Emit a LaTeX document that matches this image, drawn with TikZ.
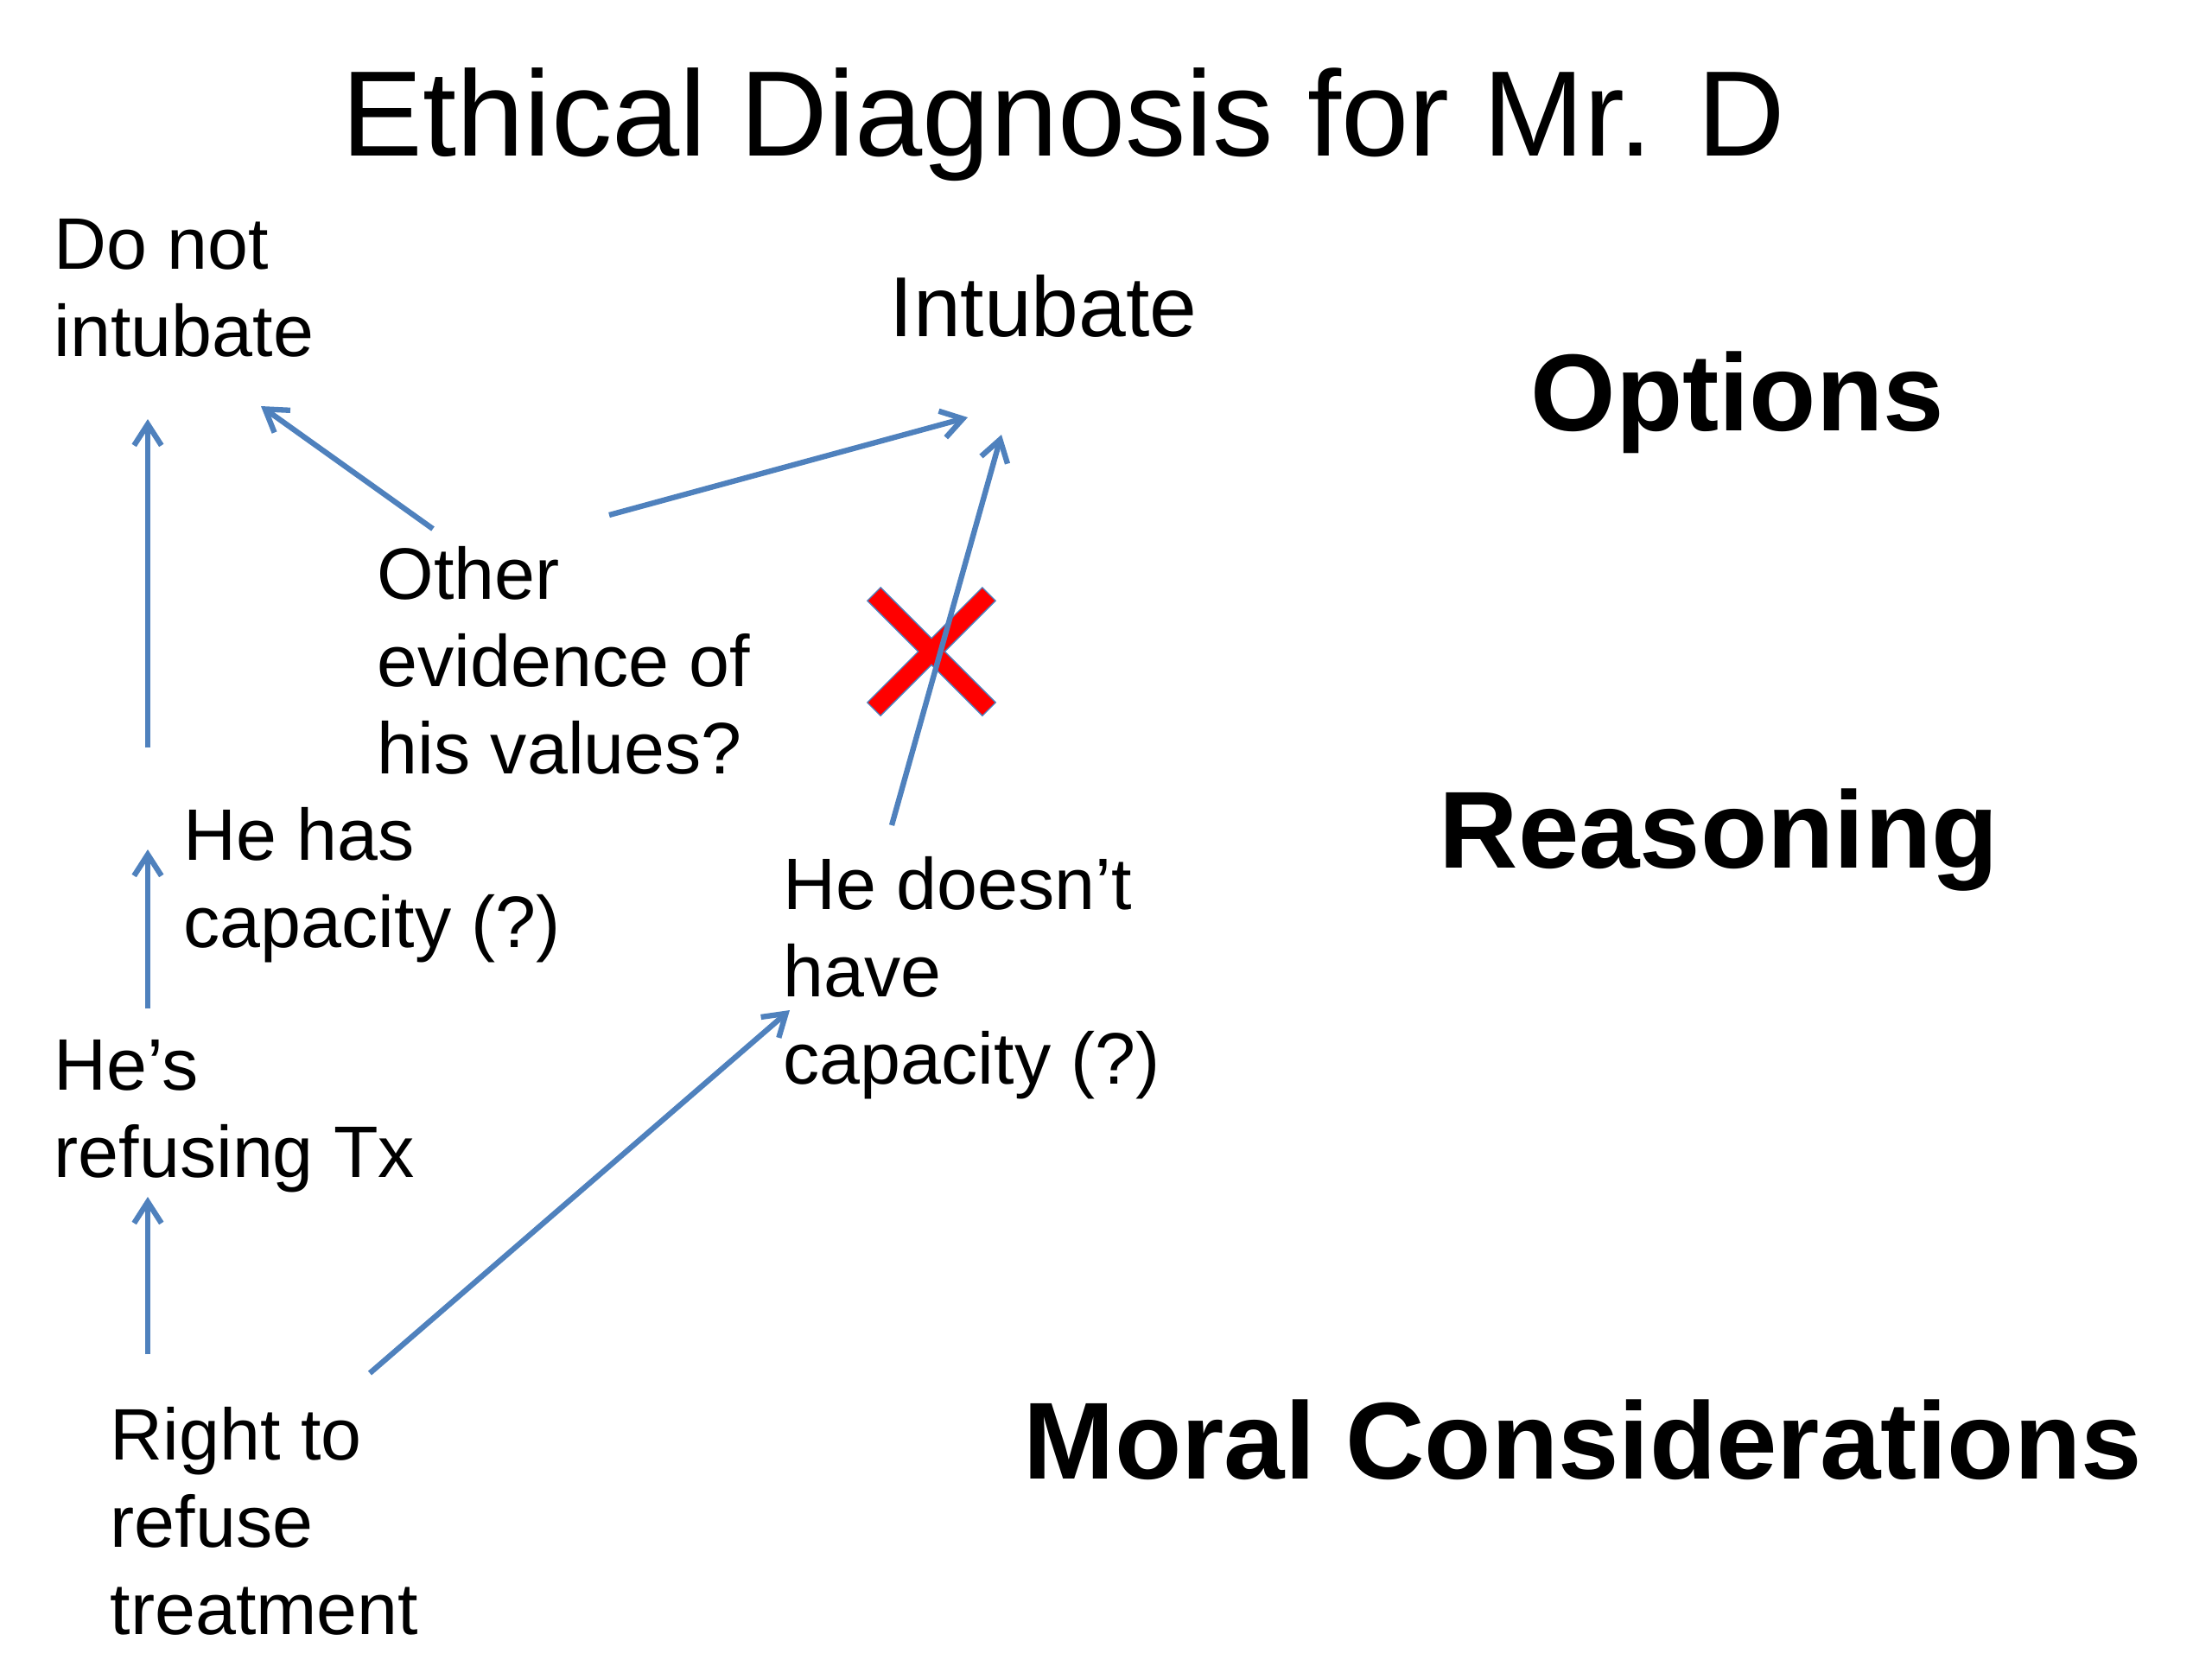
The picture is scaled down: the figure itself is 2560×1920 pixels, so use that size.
\documentclass[tikz,border=0pt]{standalone}
\usepackage{fontspec}
\setmainfont{Liberation Sans}
\usepackage{tikz}
\usetikzlibrary{arrows.meta, calc}
\tikzset{every node/.style={font=\fontsize{24}{28.6}\selectfont}}
\usepackage{xcolor}
\definecolor{linkblue}{HTML}{4F81BD}
\definecolor{crossred}{HTML}{FF0000}

\begin{document}
\begin{tikzpicture}[x=0.01cm, y=-0.01cm,
    txt/.style={anchor=north west, align=left, inner sep=0pt},
    head/.style={anchor=base west, inner sep=0pt, font=\fontsize{36}{40}\selectfont\bfseries},
    link/.style={-{Straight Barb[length=7pt, width=9pt]}, line width=1.8pt, linkblue},
    xmark/.style={line width=0.2cm, crossred}]
  \useasboundingbox (0,0) rectangle (2560,1920);
  \node[anchor=base west, inner sep=0pt, font=\fontsize{40}{48}\selectfont] (title) at (395,180) {Ethical Diagnosis for Mr. D};
  \node[txt] (dni) at (62,253) {Do not\\intubate};
  \node[txt, font=\fontsize{28}{33}\selectfont] (intub) at (1029,317) {Intubate};
  \node[txt] (other) at (436,632) {Other\\evidence of\\his values?};
  \node[txt] (hascap) at (212,934) {He has\\capacity (?)};
  \node[txt] (nocap) at (906,991) {He doesn’t\\have\\capacity (?)};
  \node[txt] (refusing) at (62,1203) {He’s\\refusing Tx};
  \node[txt] (right) at (127,1628) {Right to\\refuse\\treatment};
  \node[head] (options) at (1771,498) {Options};
  \node[head] (reasoning) at (1665,1004) {Reasoning};
  \node[head] (moral) at (1184,1711) {Moral Considerations};
  \coordinate (cross) at (1078,754);
  \draw[xmark, draw=linkblue, line width=0.23cm] ($(cross)+(-67,-67)$) -- ($(cross)+(67,67)$) ($(cross)+(67,-67)$) -- ($(cross)+(-67,67)$);
  \draw[xmark] ($(cross)+(-66,-66)$) -- ($(cross)+(66,66)$) ($(cross)+(66,-66)$) -- ($(cross)+(-66,66)$);
  \draw[link] ($(hascap.north west)+(-41,-69)$) -- ($(dni.north west)+(109,232)$);
  \draw[link] ($(other.north west)+(65,-20)$) -- ($(dni.north west)+(240,217)$);
  \draw[link] ($(other.north west)+(269,-36)$) -- ($(intub.north west)+(91,166)$);
  \draw[link] ($(nocap.north west)+(126,-36)$) -- ($(intub.north west)+(130,186)$);
  \draw[link] ($(refusing.north west)+(109,-36)$) -- ($(hascap.north west)+(-41,49)$);
  \draw[link] ($(right.north west)+(44,-61)$) -- ($(refusing.north west)+(109,182)$);
  \draw[link] ($(right.north west)+(301,-39)$) -- ($(nocap.north west)+(8,178)$);
\end{tikzpicture}
\end{document}
